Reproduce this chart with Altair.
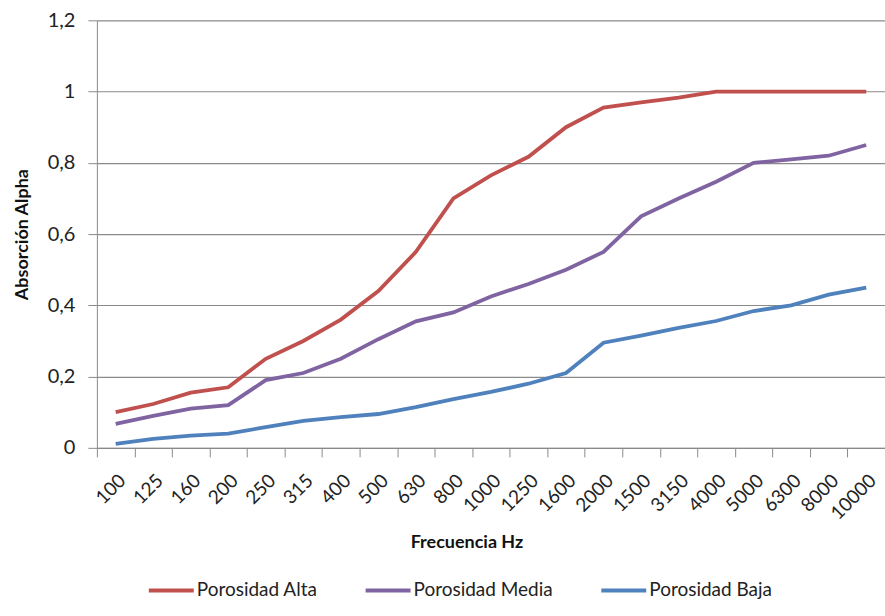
import altair as alt
import pandas as pd

# Frequency bands (Hz) as they appear on the axis
freq = ["100", "125", "160", "200", "250", "315", "400", "500", "630", "800",
        "1000", "1250", "1600", "2000", "1500", "3150", "4000", "5000", "6300",
        "8000", "10000"]

# Absorption coefficients per porosity level
alta = [0.10, 0.123, 0.155, 0.17, 0.25, 0.30, 0.36, 0.44, 0.55, 0.70,
        0.765, 0.817, 0.90, 0.955, 0.97, 0.983, 1.0, 1.0, 1.0, 1.0, 1.0]
media = [0.067, 0.09, 0.11, 0.12, 0.19, 0.21, 0.25, 0.305, 0.355, 0.38,
         0.425, 0.46, 0.50, 0.55, 0.65, 0.70, 0.747, 0.80, 0.81, 0.82, 0.85]
baja = [0.011, 0.025, 0.034, 0.04, 0.058, 0.076, 0.086, 0.095, 0.114, 0.137,
        0.157, 0.18, 0.21, 0.295, 0.315, 0.337, 0.356, 0.384, 0.40, 0.43, 0.45]

series = ["Porosidad Alta", "Porosidad Media", "Porosidad Baja"]
colors = ["#C0504D", "#8064A2", "#4F81BD"]

rows = []
for name, vals in zip(series, [alta, media, baja]):
    for f, v in zip(freq, vals):
        rows.append({"Frecuencia": f, "Serie": name, "Alpha": v})
df = pd.DataFrame(rows)

FONT = "Lato"
GRID = "#8A8A8A"

chart = alt.Chart(df).mark_line(strokeWidth=3.8).encode(
    x=alt.X(
        "Frecuencia:N",
        sort=freq,
        scale=alt.Scale(type="band", paddingInner=0, paddingOuter=0),
        axis=alt.Axis(
            title="Frecuencia Hz",
            labelAngle=315,
            labelFontSize=19,
            labelPadding=14,
            labelColor="#222222",
            tickBand="extent",
            tickSize=9,
            tickColor=GRID,
            domainColor=GRID,
            grid=False,
            titleFontSize=18,
            titleFontWeight="bold",
            titleColor="#111111",
            titleX=370,
            titleY=95,
            titleAnchor="start",
            titleAlign="center",
            titleBaseline="middle",
        ),
    ),
    y=alt.Y(
        "Alpha:Q",
        scale=alt.Scale(domain=[0, 1.2], nice=False),
        axis=alt.Axis(
            title="Absorción Alpha",
            values=[0, 0.2, 0.4, 0.6, 0.8, 1.0, 1.2],
            labelExpr="replace(format(datum.value, '~g'), '.', ',')",
            labelFontSize=20,
            labelPadding=13,
            labelColor="#222222",
            tickSize=9,
            tickColor=GRID,
            domainColor=GRID,
            gridColor=GRID,
            gridWidth=1.2,
            titleFontSize=18,
            titleFontWeight="bold",
            titleColor="#111111",
            titlePadding=16,
        ),
    ),
    color=alt.Color(
        "Serie:N",
        sort=series,
        scale=alt.Scale(domain=series, range=colors),
        legend=alt.Legend(
            title=None,
            orient="none",
            direction="horizontal",
            legendX=50,
            legendY=546,
            symbolType="stroke",
            symbolSize=2025,
            symbolStrokeWidth=4,
            labelFontSize=19,
            labelOffset=1,
            columnPadding=40,
            labelColor="#222222",
        ),
    ),
).properties(
    width=789,
    height=428,
    padding={"left": 97, "top": 20, "right": 0, "bottom": 168},
    autosize=alt.AutoSizeParams(type="none"),
).configure(
    font=FONT,
).configure_view(
    stroke=None,
)

chart.save("out.html", embed_options={"renderer": "svg", "actions": False})
